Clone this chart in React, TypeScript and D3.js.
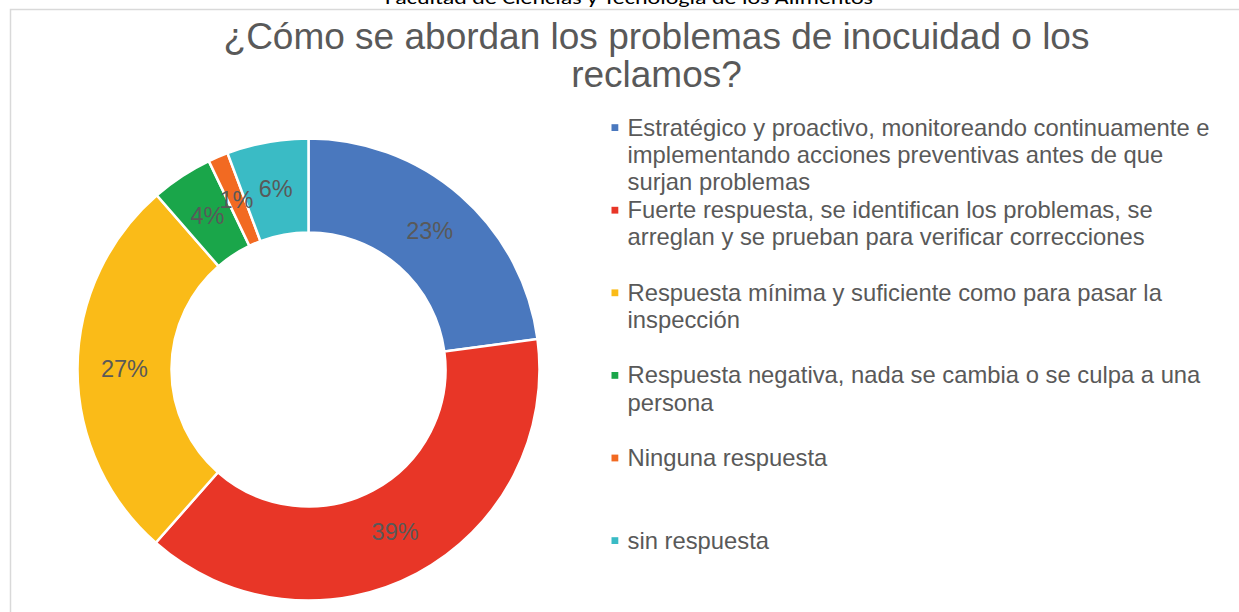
import React, { useEffect, useRef } from 'react';
import * as d3 from 'd3';

// shares (label shows rounded %)
const categories = [
  'Estratégico y proactivo, monitoreando continuamente e\nimplementando acciones preventivas antes de que\nsurjan problemas',
  'Fuerte respuesta, se identifican los problemas, se\narreglan y se prueban para verificar correcciones',
  'Respuesta mínima y suficiente como para pasar la\ninspección',
  'Respuesta negativa, nada se cambia o se culpa a una\npersona',
  'Ninguna respuesta',
  'sin respuesta',
];
const values = [22.9, 38.6, 27.1, 4.3, 1.4, 5.7];
const colors = ['#4A78BE', '#E83627', '#FABB18', '#1AA64A', '#F26A22', '#3ABBC5'];
const titleLines = ['¿Cómo se abordan los problemas de inocuidad o los', 'reclamos?'];
const header = 'Facultad de Ciencias y Tecnología de los Alimentos';

const WIDTH = 1239;
const HEIGHT = 612;

const DonutChart = () => {
  const svgRef = useRef<SVGSVGElement>(null);

  useEffect(() => {
    const svg = d3.select(svgRef.current);
    svg.selectAll('*').remove();
    const font = '"Liberation Sans", Arial, sans-serif';
    const textColor = '#595959';

    svg.append('rect').attr('width', WIDTH).attr('height', HEIGHT).attr('fill', '#fff');

    // page header, cut by the top edge
    svg.append('text')
      .attr('x', 385).attr('y', 4)
      .attr('textLength', 488)
      .attr('lengthAdjust', 'spacingAndGlyphs')
      .style('font-family', '"Carlito", "Liberation Sans", sans-serif')
      .style('font-size', '19px')
      .attr('fill', '#000')
      .text(header);

    // chart frame
    svg.append('path')
      .attr('d', `M10.5,${HEIGHT} V9.5 H${WIDTH}`)
      .attr('fill', 'none')
      .attr('stroke', '#d9d9d9')
      .attr('stroke-width', 1.5);

    // title
    svg.append('g').selectAll('text')
      .data(titleLines)
      .enter().append('text')
      .attr('x', 656.5)
      .attr('y', (d, i) => 49.3 + i * 38)
      .attr('text-anchor', 'middle')
      .style('font-family', font)
      .style('font-size', '37px')
      .attr('fill', textColor)
      .text(d => d);

    // donut
    const cx = 308.5;
    const cy = 369.5;
    const outer = 231;
    const inner = 137;
    const total = d3.sum(values);

    const pie = d3.pie<number>().sort(null).value(d => d);
    const arcs = pie(values);
    const arc = d3.arc<d3.PieArcDatum<number>>().innerRadius(inner).outerRadius(outer);
    const labelArc = d3.arc<d3.PieArcDatum<number>>()
      .innerRadius((inner + outer) / 2)
      .outerRadius((inner + outer) / 2);

    const g = svg.append('g').attr('transform', `translate(${cx},${cy})`);

    g.selectAll('path')
      .data(arcs)
      .enter().append('path')
      .attr('d', arc)
      .attr('fill', (d, i) => colors[i])
      .attr('stroke', '#fff')
      .attr('stroke-width', 2.5);

    g.selectAll('.label')
      .data(arcs)
      .enter().append('text')
      .attr('class', 'label')
      .attr('transform', d => `translate(${labelArc.centroid(d)})`)
      .attr('text-anchor', 'middle')
      .attr('dy', '0.35em')
      .style('font-family', font)
      .style('font-size', '23.5px')
      .attr('fill', textColor)
      .text(d => d3.format('.0%')(d.value / total));

    // legend
    const legend = svg.append('g').attr('transform', 'translate(611.5,135.5)');
    const slot = 82.6;
    const lineH = 27.4;

    const items = legend.selectAll('g')
      .data(categories)
      .enter().append('g')
      .attr('transform', (d, i) => `translate(0,${i * slot})`);

    items.append('rect')
      .attr('x', 0).attr('y', -11.3)
      .attr('width', 6.8).attr('height', 6.8)
      .attr('fill', (d, i) => colors[i]);

    items.append('text')
      .style('font-family', font)
      .style('font-size', '23.8px')
      .attr('fill', textColor)
      .selectAll('tspan')
      .data(d => d.split('\n'))
      .enter().append('tspan')
      .attr('x', 16)
      .attr('y', (d, i) => i * lineH)
      .text(d => d);
  }, []);

  return (
    <svg
      ref={svgRef}
      width={WIDTH}
      height={HEIGHT}
      style={{ position: 'fixed', left: 0, top: 0, display: 'block' }}
    />
  );
};

export default function App() {
  return <DonutChart />;
}
